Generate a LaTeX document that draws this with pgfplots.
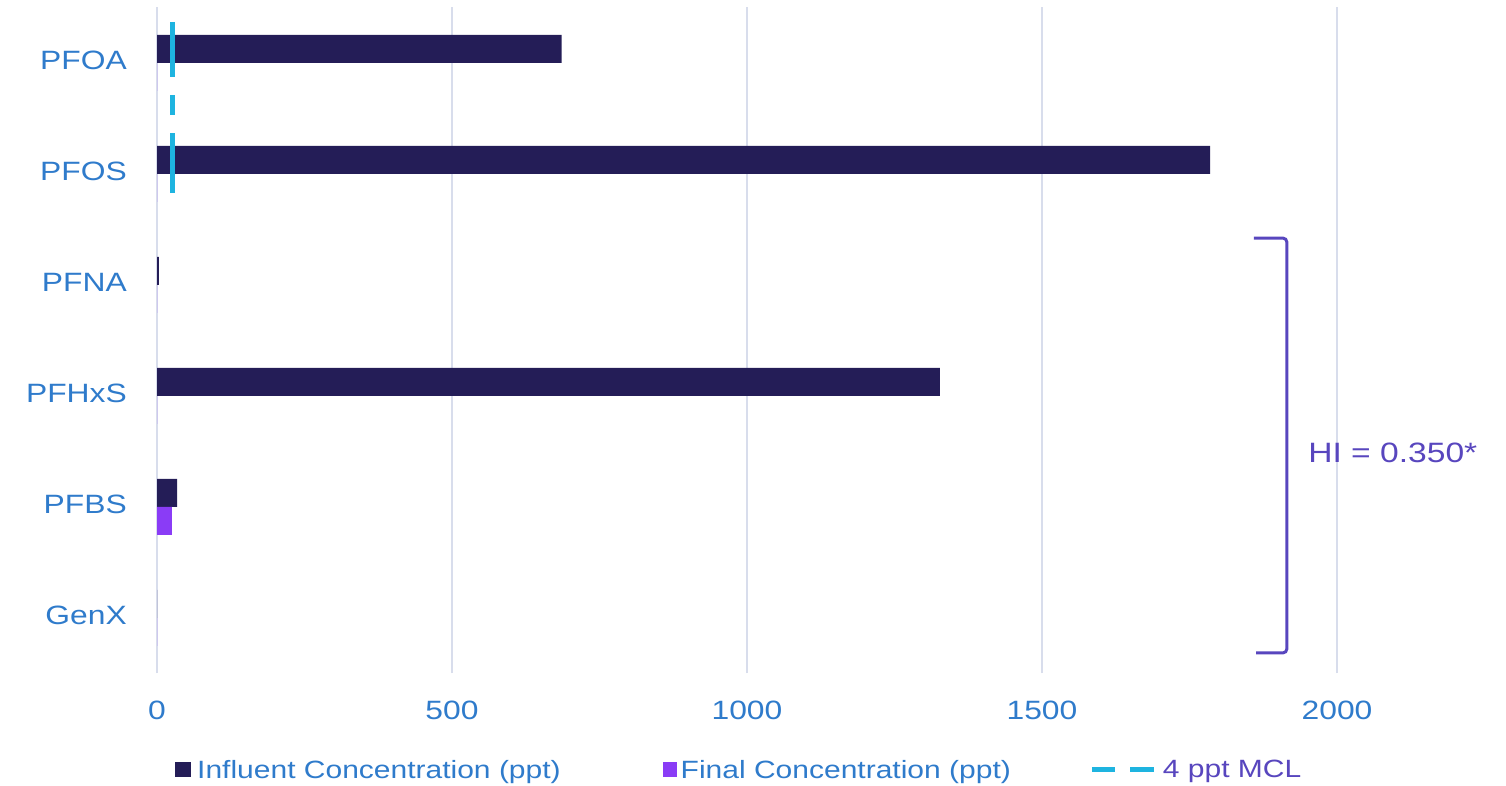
\documentclass[border=0pt]{standalone}
\usepackage{pgfplots}
\pgfplotsset{compat=1.18}
\usepackage{pgfplotstable}
\usepackage{fontspec}
\setmainfont{Liberation Sans}[FakeStretch=1.2]
\definecolor{navy}{HTML}{241D57}
\definecolor{violet2}{HTML}{8A3CF6}
\definecolor{mclcyan}{HTML}{1EB4E0}
\definecolor{labblue}{HTML}{2F7BCB}
\definecolor{hipurple}{HTML}{5846BE}
\definecolor{gridc}{HTML}{D8DDEC}

\pgfplotstableread{
y influent final
5 686 0
4 1785 0
3 3 0
2 1327 0
1 34 25
0 0 0
}\datatab

\begin{document}
\begin{tikzpicture}
\begin{axis}[
  at={(157pt,112.5pt)}, anchor=south west,
  scale only axis, width=1298pt, height=666pt,
  xmin=0, xmax=2200, ymin=-0.5, ymax=5.5,
  axis line style={draw=none},
  major tick length=0pt,
  xtick={0,500,1000,1500,2000},
  ytick={0,1,2,3,4,5},
  yticklabels={GenX,PFBS,PFHxS,PFNA,PFOS,PFOA},
  xmajorgrids, ymajorgrids=false,
  grid style={gridc, line width=1.5pt},
  /pgf/number format/assume math mode=true,
  /pgf/number format/1000 sep={},
  tick label style={text=labblue, font=\fontsize{26.5}{30}\selectfont, inner sep=0pt},
  yticklabel style={anchor=east, yshift=3pt},
  xticklabel style={anchor=north},
  yticklabel shift=30pt, xticklabel shift=27.5pt,
  clip=false,
  legend columns=3,
  legend style={draw=none, fill=none, inner sep=0pt,
    font=\fontsize{25}{29}\selectfont,
    nodes={inner sep=0pt},
    at={(0.01387,-0.1449)}, anchor=west,
    /tikz/column 1/.style={column sep=6pt},
    /tikz/column 2/.style={column sep=102pt},
    /tikz/column 3/.style={column sep=4pt},
    /tikz/column 4/.style={column sep=79pt},
    /tikz/column 5/.style={column sep=6pt}},
]
\addplot[xbar, bar width=28pt, bar shift=14pt, fill=navy, draw=none,
  legend image code/.code={\fill[navy] (0pt,-7.5pt) rectangle (16pt,7.5pt);}]
  table[x=influent, y=y] {\datatab};
\addlegendentry{\textcolor{labblue}{Influent Concentration (ppt)}}
\addplot[xbar, bar width=28pt, bar shift=-14pt, fill=violet2, draw=none,
  legend image code/.code={\fill[violet2] (0pt,-7.5pt) rectangle (14pt,7.5pt);}]
  table[x=final, y=y] {\datatab};
\addlegendentry{\textcolor{labblue}{Final Concentration (ppt)}}
\addplot[sharp plot, mclcyan, line width=5pt, dash pattern=on 55pt off 18pt on 20pt off 18pt on 62pt off 40pt,
  legend image code/.code={\draw[mclcyan, solid, line width=5pt] (0pt,0pt)--(23pt,0pt) (38pt,0pt)--(62pt,0pt);}]
  coordinates {(27,5.369) (27,3.829)};
\addlegendentry{\textcolor{hipurple}{4 ppt MCL}}
\draw[hipurple, line width=3pt, rounded corners=4pt]
  (axis cs:1859,3.423) -- (axis cs:1915,3.423) -- (axis cs:1915,-0.315) -- (axis cs:1863,-0.315);
\node[text=hipurple, anchor=west, font=\fontsize{28}{32}\selectfont, inner sep=0pt]
  at (axis cs:1951,1.486) {HI = 0.350*};
\end{axis}
\pgfresetboundingbox
\path[use as bounding box] (0,0) rectangle (1506pt,786pt);
\end{tikzpicture}
\end{document}
